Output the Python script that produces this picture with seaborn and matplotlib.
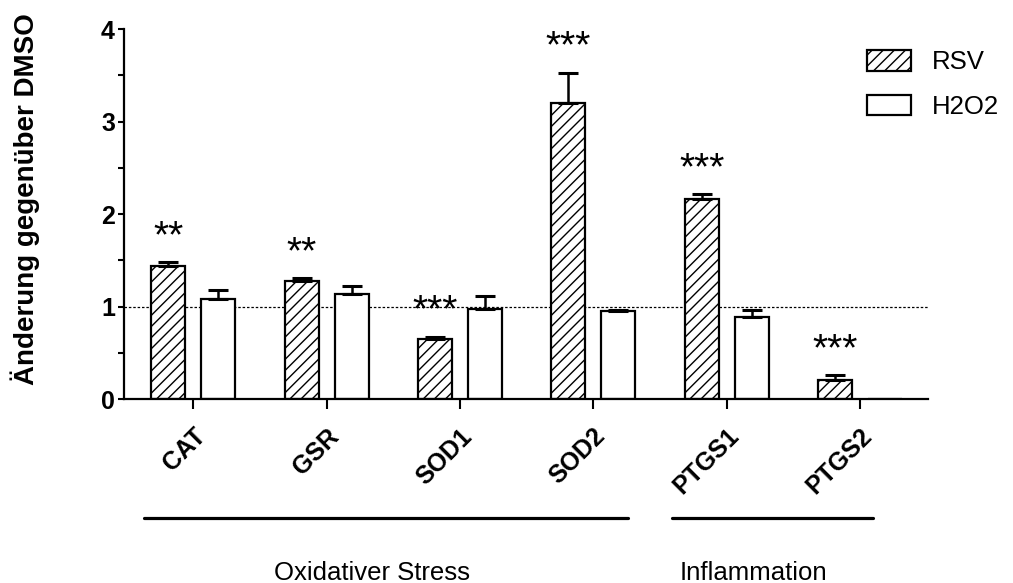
import numpy as np
import pandas as pd
import matplotlib.pyplot as plt
from matplotlib.patches import Patch
import seaborn as sns

# Werte
genes = ['CAT', 'GSR', 'SOD1', 'SOD2', 'PTGS1', 'PTGS2']
treatments = ['RSV', 'H2O2']
rsv_mean = [1.44, 1.28, 0.65, 3.20, 2.16, 0.21]
rsv_err = [0.045, 0.03, 0.025, 0.33, 0.06, 0.05]
h2o2_mean = [1.08, 1.13, 0.97, 0.955, 0.89, 0.0]
h2o2_err = [0.10, 0.09, 0.14, 0.01, 0.07, np.nan]
stars = ['**', '**', '***', '***', '***', '***']

group_names = ['Oxidativer Stress', 'Inflammation']
group_start = [-0.367, 3.59]
group_end = [3.26, 5.10]
group_label_x = [1.34, 4.20]

df = pd.DataFrame({
    'Gene': genes * 2,
    'Treatment': ['RSV'] * len(genes) + ['H2O2'] * len(genes),
    'Value': rsv_mean + h2o2_mean,
})
errors = {'RSV': rsv_err, 'H2O2': h2o2_err}

sns.set_style('ticks', rc={'text.color': 'black', 'axes.labelcolor': 'black',
                           'xtick.color': 'black', 'ytick.color': 'black',
                           'axes.edgecolor': 'black'})
plt.rcParams['font.family'] = ['Liberation Sans', 'DejaVu Sans']
plt.rcParams['hatch.linewidth'] = 1.0

fig = plt.figure(figsize=(10.13, 5.83), dpi=100)
ax = fig.add_axes([0.1224, 0.3156, 0.7937, 0.6346])

sns.barplot(data=df, x='Gene', y='Value', hue='Treatment', hue_order=treatments,
            order=genes, width=0.75, gap=0.32, legend=False, ax=ax,
            palette=['white', 'white'], edgecolor='black', linewidth=1.6)

hatches = {'RSV': '///', 'H2O2': ''}
rsv_tops = []
for cont, trt in zip(ax.containers, treatments):
    for bar, val, err in zip(cont.patches, df[df.Treatment == trt].Value, errors[trt]):
        bar.set_hatch(hatches[trt])
        bar.set_facecolor('white')
        bar.set_edgecolor('black')
        cx = bar.get_x() + bar.get_width() / 2
        if not np.isnan(err):
            ax.errorbar(cx, val, yerr=[[0], [err]], fmt='none', ecolor='black',
                        elinewidth=1.8, capsize=7, capthick=2.2, zorder=1)
        if trt == 'RSV':
            rsv_tops.append((cx, val + err))

# Signifikanzsterne
for (cx, top), s in zip(rsv_tops, stars):
    ax.text(cx, top + 0.16, s, ha='center', va='baseline', fontsize=28)

ax.axhline(1, color='black', lw=0.9, ls=(0, (2, 1.5)), zorder=0)

ax.set_xlim(-0.52, 5.51)
ax.set_ylim(0, 4)
ax.set_yticks([0, 1, 2, 3, 4])
ax.set_yticks(np.arange(0.5, 4, 1.0), minor=True)
ax.tick_params(axis='y', which='both', length=4.5, width=1.5, labelsize=18, pad=2)
ax.tick_params(axis='x', length=7, width=1.5, labelsize=18, pad=11)
for lab in ax.get_yticklabels():
    lab.set_fontweight('bold')
ax.set_xticks(range(len(genes)))
ax.set_xticklabels(genes, rotation=45, ha='right', rotation_mode='anchor',
                   fontweight='bold')
ax.set_xlabel('')
ax.set_ylabel('Änderung gegenüber DMSO', fontsize=20, fontweight='bold')
ax.yaxis.set_label_coords(-0.104, 0.54)
sns.despine(ax=ax)
for sp in ['left', 'bottom']:
    ax.spines[sp].set_linewidth(1.6)

# Gruppen unter der Achse
for name, x0, x1, xl in zip(group_names, group_start, group_end, group_label_x):
    ax.plot([x0, x1], [-1.286, -1.286], color='black', lw=2.3, clip_on=False)
    ax.text(xl, -1.957, name, ha='center', va='baseline', fontsize=18.5)

handles = [Patch(facecolor='white', edgecolor='black', hatch='///', lw=1.6),
           Patch(facecolor='white', edgecolor='black', lw=1.6)]
fig.legend(handles, treatments, loc='upper left', bbox_to_anchor=(867 / 1013, 1 - 50 / 583),
           frameon=False, fontsize=18.5, handlelength=1.71, handleheight=0.86,
           handletextpad=0.8, labelspacing=0.8, borderpad=0, borderaxespad=0)

fig.savefig('out.png', dpi=100)
